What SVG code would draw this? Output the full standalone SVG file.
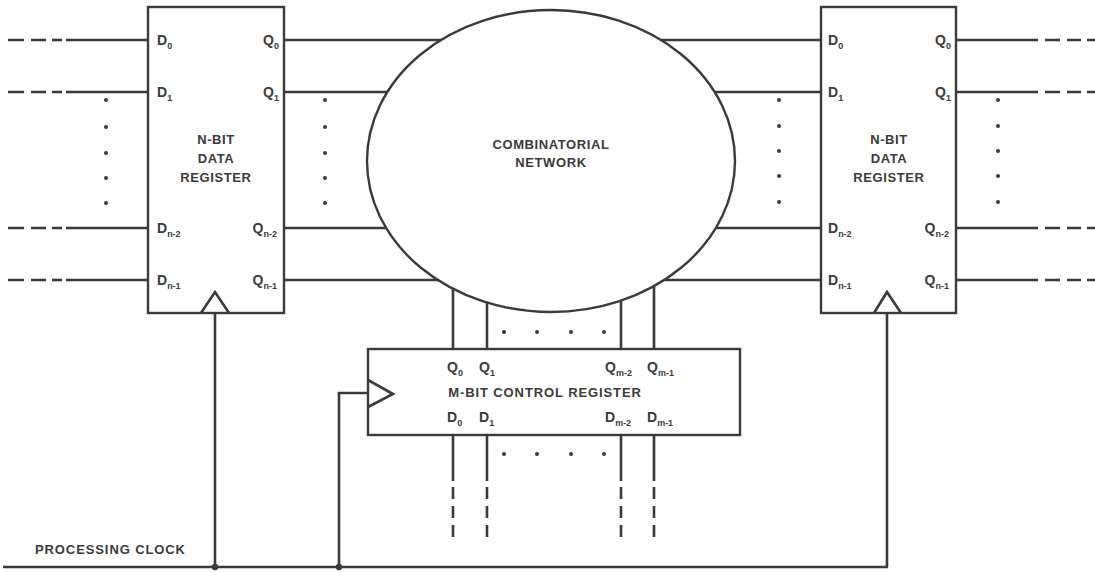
<svg xmlns="http://www.w3.org/2000/svg" width="1095" height="572" viewBox="0 0 1095 572">
<style>
.w{stroke:#3a3a3a;stroke-width:2.6;fill:none;stroke-linecap:butt}
.b{stroke:#3a3a3a;stroke-width:2.4;fill:#fff}
.t{font-family:"Liberation Sans",Arial,sans-serif;font-weight:bold;fill:#3a3a3a;font-size:13px;letter-spacing:0.6px}
.p{font-family:"Liberation Sans",Arial,sans-serif;font-weight:bold;fill:#3a3a3a;font-size:14px}
.s{font-size:9px}
.d{fill:#3a3a3a}
.vd{stroke:#3a3a3a;stroke-width:2.6;fill:none;stroke-dasharray:12 7}
</style>
<rect width="1095" height="572" fill="#fff"/>
<g id="connectors">
  <!-- left inputs -->
  <g class="w">
    <path d="M8 40H24M31 40H46M52 40H62M66 40H148"/>
    <path d="M8 92H24M31 92H46M52 92H62M66 92H148"/>
    <path d="M8 228H24M31 228H46M52 228H62M66 228H148"/>
    <path d="M8 280H24M31 280H46M52 280H62M66 280H148"/>
    <!-- left register to network -->
    <path d="M284 40H500M284 92H500M284 228H500M284 280H500"/>
    <!-- network to right register -->
    <path d="M600 40H821M600 92H821M600 228H821M600 280H821"/>
    <!-- right outputs -->
    <path d="M956 40H1038M1045 40H1060M1067 40H1081M1087 40H1095"/>
    <path d="M956 92H1038M1045 92H1060M1067 92H1081M1087 92H1095"/>
    <path d="M956 228H1038M1045 228H1060M1067 228H1081M1087 228H1095"/>
    <path d="M956 280H1038M1045 280H1060M1067 280H1081M1087 280H1095"/>
    <!-- network to control register -->
    <path d="M453 250V349M487 250V349M621 250V349M654 250V349"/>
    <!-- control register outputs down -->
    <path d="M453 435V481M487 435V481M621 435V481M654 435V481"/>
    <!-- clock -->
    <path d="M3 567H888"/>
    <path d="M215 313V567"/>
    <path d="M887 313V567"/>
    <path d="M339 567V393H368"/>
  </g>
  <g class="vd">
    <path d="M453 487V537M487 487V537M621 487V537M654 487V537"/>
  </g>
  <circle class="d" cx="215" cy="567" r="3.2"/>
  <circle class="d" cx="339" cy="567" r="3.2"/>
  <!-- ellipsis dots -->
  <g class="d">
    <circle cx="106" cy="100" r="2"/><circle cx="106" cy="127" r="2"/><circle cx="106" cy="153" r="2"/><circle cx="106" cy="178" r="2"/><circle cx="106" cy="203" r="2"/>
    <circle cx="325" cy="100" r="2"/><circle cx="325" cy="127" r="2"/><circle cx="325" cy="153" r="2"/><circle cx="325" cy="178" r="2"/><circle cx="325" cy="203" r="2"/>
    <circle cx="779" cy="100" r="2"/><circle cx="779" cy="126" r="2"/><circle cx="779" cy="151" r="2"/><circle cx="779" cy="176" r="2"/><circle cx="779" cy="202" r="2"/>
    <circle cx="998" cy="100" r="2"/><circle cx="998" cy="126" r="2"/><circle cx="998" cy="151" r="2"/><circle cx="998" cy="176" r="2"/><circle cx="998" cy="202" r="2"/>
    <circle cx="504" cy="332" r="2"/><circle cx="537" cy="332" r="2"/><circle cx="571" cy="332" r="2"/><circle cx="604" cy="332" r="2"/>
    <circle cx="504" cy="454" r="2"/><circle cx="537" cy="454" r="2"/><circle cx="571" cy="454" r="2"/><circle cx="604" cy="454" r="2"/>
  </g>
</g>
<g id="left-register">
  <rect class="b" x="148" y="7" width="136" height="306"/>
  <polyline class="w" points="201,313 215,292 229,313"/>
  <text class="t" x="216" y="144" text-anchor="middle">N-BIT</text>
  <text class="t" x="216" y="163" text-anchor="middle">DATA</text>
  <text class="t" x="216" y="182" text-anchor="middle">REGISTER</text>
  <text class="p" x="157" y="45">D<tspan class="s" dy="4">0</tspan></text>
  <text class="p" x="157" y="97">D<tspan class="s" dy="4">1</tspan></text>
  <text class="p" x="157" y="233">D<tspan class="s" dy="4">n-2</tspan></text>
  <text class="p" x="157" y="285">D<tspan class="s" dy="4">n-1</tspan></text>
  <text class="p" x="279" y="45" text-anchor="end">Q<tspan class="s" dy="4">0</tspan></text>
  <text class="p" x="279" y="97" text-anchor="end">Q<tspan class="s" dy="4">1</tspan></text>
  <text class="p" x="277" y="233" text-anchor="end">Q<tspan class="s" dy="4">n-2</tspan></text>
  <text class="p" x="277" y="285" text-anchor="end">Q<tspan class="s" dy="4">n-1</tspan></text>
</g>
<g id="network">
  <ellipse class="b" cx="551" cy="161" rx="184" ry="151" stroke-width="2"/>
  <text class="t" x="551" y="149" text-anchor="middle">COMBINATORIAL</text>
  <text class="t" x="551" y="167" text-anchor="middle">NETWORK</text>
</g>
<g id="right-register">
  <rect class="b" x="821" y="7" width="135" height="306"/>
  <polyline class="w" points="874,313 887,292 901,313"/>
  <text class="t" x="889" y="144" text-anchor="middle">N-BIT</text>
  <text class="t" x="889" y="163" text-anchor="middle">DATA</text>
  <text class="t" x="889" y="182" text-anchor="middle">REGISTER</text>
  <text class="p" x="828" y="45">D<tspan class="s" dy="4">0</tspan></text>
  <text class="p" x="828" y="97">D<tspan class="s" dy="4">1</tspan></text>
  <text class="p" x="828" y="233">D<tspan class="s" dy="4">n-2</tspan></text>
  <text class="p" x="828" y="285">D<tspan class="s" dy="4">n-1</tspan></text>
  <text class="p" x="951" y="45" text-anchor="end">Q<tspan class="s" dy="4">0</tspan></text>
  <text class="p" x="951" y="97" text-anchor="end">Q<tspan class="s" dy="4">1</tspan></text>
  <text class="p" x="949" y="233" text-anchor="end">Q<tspan class="s" dy="4">n-2</tspan></text>
  <text class="p" x="949" y="285" text-anchor="end">Q<tspan class="s" dy="4">n-1</tspan></text>
</g>
<g id="control-register">
  <rect class="b" x="368" y="349" width="372" height="86"/>
  <polyline class="w" points="368,380 393,394 368,407"/>
  <text class="p" x="447" y="372">Q<tspan class="s" dy="4">0</tspan></text>
  <text class="p" x="479" y="372">Q<tspan class="s" dy="4">1</tspan></text>
  <text class="p" x="605" y="372">Q<tspan class="s" dy="4">m-2</tspan></text>
  <text class="p" x="647" y="372">Q<tspan class="s" dy="4">m-1</tspan></text>
  <text class="t" x="545" y="397" text-anchor="middle" style="letter-spacing:0.9px">M-BIT CONTROL REGISTER</text>
  <text class="p" x="447" y="422">D<tspan class="s" dy="4">0</tspan></text>
  <text class="p" x="479" y="422">D<tspan class="s" dy="4">1</tspan></text>
  <text class="p" x="605" y="422">D<tspan class="s" dy="4">m-2</tspan></text>
  <text class="p" x="647" y="422">D<tspan class="s" dy="4">m-1</tspan></text>
</g>
<g id="clock-label">
  <text class="t" x="35" y="554" style="letter-spacing:0.9px">PROCESSING CLOCK</text>
</g>
</svg>
